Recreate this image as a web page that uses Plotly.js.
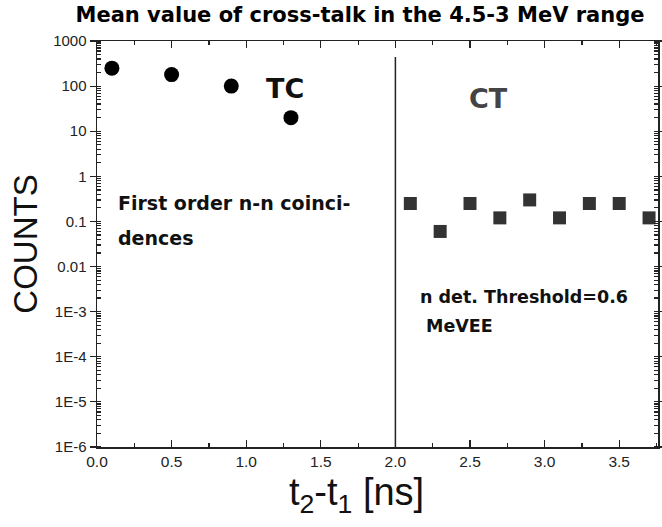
<!DOCTYPE html>
<html>
<head>
<meta charset="utf-8">
<script src="https://cdn.plot.ly/plotly-3.0.1.min.js"></script>
<style>html,body{margin:0;padding:0;background:#fff;}#chart{width:662px;height:527px;}</style>
</head>
<body>
<div id="chart"></div>
<script>
// Data
const tcX = [0.1, 0.5, 0.9, 1.3];
const tcY = [250, 180, 100, 20];
const ctX = [2.1, 2.3, 2.5, 2.7, 2.9, 3.1, 3.3, 3.5, 3.7];
const ctY = [0.25, 0.06, 0.25, 0.12, 0.30, 0.12, 0.25, 0.25, 0.12];
const dividerX = [2.0, 2.0];
const dividerY = [1e-6, 440];
const yTickVals = [1000, 100, 10, 1, 0.1, 0.01, 1e-3, 1e-4, 1e-5, 1e-6];
const yTickText = ['1000', '100', '10', '1', '0.1', '0.01', '1E-3', '1E-4', '1E-5', '1E-6'];

const traces = [
  {x: dividerX, y: dividerY, mode: 'lines', line: {color: '#222', width: 1.5}, hoverinfo: 'skip', showlegend: false},
  {x: tcX, y: tcY, mode: 'markers', marker: {symbol: 'circle', size: 15, color: '#000'}, showlegend: false},
  {x: ctX, y: ctY, mode: 'markers', marker: {symbol: 'square', size: 13, color: '#333'}, showlegend: false}
];

const W = 561, H = 406, L = 97, T = 41;
const px = v => (v - L) / W;
const py = v => (T + H - v) / H;
const bold = 'DejaVu Sans, sans-serif';

const layout = {
  width: 662, height: 527,
  margin: {l: 97, r: 4, t: 41, b: 80},
  paper_bgcolor: '#fff', plot_bgcolor: '#fff',
  font: {family: 'Liberation Sans, Arial, sans-serif', color: '#111'},
  title: {text: '<b>Mean value of cross-talk in the 4.5-3 MeV range</b>', font: {family: bold, size: 21, color: '#000'},
          x: 360/662, xanchor: 'center', xref: 'container', y: 1 - 15/527, yanchor: 'middle', yref: 'container'},
  xaxis: {
    range: [0, 3.76], tick0: 0, dtick: 0.5, tickformat: '.1f',
    ticks: 'inside', ticklen: 7, tickwidth: 1.2, tickcolor: '#222',
    minor: {ticks: 'inside', ticklen: 4, dtick: 0.25, tickcolor: '#222'},
    showline: true, linecolor: '#222', linewidth: 1.5, mirror: 'ticks',
    showgrid: false, zeroline: false,
    tickfont: {size: 15.5, color: '#222'}
  },
  yaxis: {
    type: 'log', range: [-6, 3],
    tickvals: yTickVals, ticktext: yTickText,
    ticks: 'outside', ticklen: 6, tickwidth: 1.2, tickcolor: '#222',
    minor: {ticks: 'inside', ticklen: 4, dtick: 'D1', tickcolor: '#222'},
    showline: true, linecolor: '#222', linewidth: 1.5, mirror: 'ticks',
    showgrid: false, zeroline: false,
    tickfont: {size: 15, color: '#222'},
    title: {text: 'COUNTS', font: {size: 33, color: '#111'}, standoff: 5}
  },
  annotations: [
    {text: 't<sub>2</sub>-t<sub>1</sub> [ns]', xref: 'paper', yref: 'paper', x: px(356), y: py(521), xanchor: 'center', yanchor: 'bottom', showarrow: false, font: {size: 38, color: '#111'}},
    {text: '<b>TC</b>', xref: 'paper', yref: 'paper', x: px(285), y: py(88), xanchor: 'center', yanchor: 'middle', showarrow: false, font: {size: 27, color: '#111', family: bold}},
    {text: '<b>CT</b>', xref: 'paper', yref: 'paper', x: px(488), y: py(98), xanchor: 'center', yanchor: 'middle', showarrow: false, font: {size: 27, color: '#444', family: bold}},
    {text: '<b>First order n-n coinci-</b>', xref: 'paper', yref: 'paper', x: px(116), y: py(203), xanchor: 'left', yanchor: 'middle', showarrow: false, font: {size: 19, color: '#111', family: bold}},
    {text: '<b>dences</b>', xref: 'paper', yref: 'paper', x: px(116), y: py(238), xanchor: 'left', yanchor: 'middle', showarrow: false, font: {size: 19, color: '#111', family: bold}},
    {text: '<b>n det. Threshold=0.6</b>', xref: 'paper', yref: 'paper', x: px(418), y: py(297), xanchor: 'left', yanchor: 'middle', showarrow: false, font: {size: 17.5, color: '#111', family: bold}},
    {text: '<b>MeVEE</b>', xref: 'paper', yref: 'paper', x: px(424), y: py(326), xanchor: 'left', yanchor: 'middle', showarrow: false, font: {size: 17.5, color: '#111', family: bold}}
  ]
};

Plotly.newPlot('chart', traces, layout, {displayModeBar: false, staticPlot: true});
</script>
</body>
</html>
